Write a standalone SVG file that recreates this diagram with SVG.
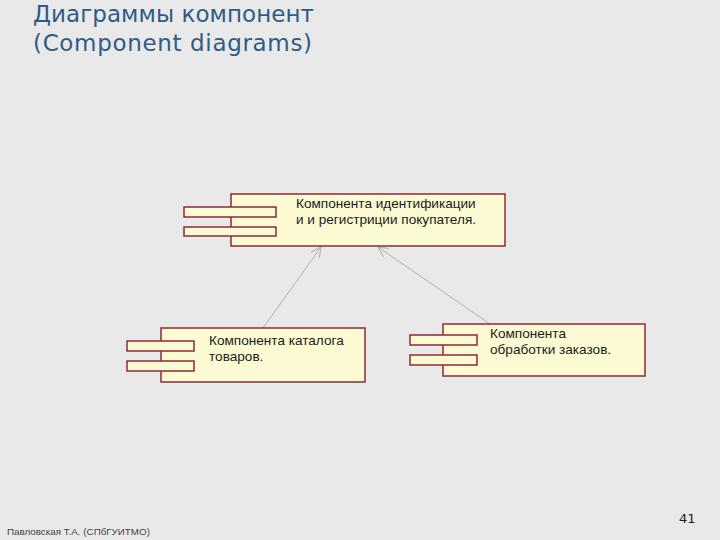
<svg xmlns="http://www.w3.org/2000/svg" width="720" height="540" viewBox="0 0 720 540">
<defs>
<style>
.body{fill:#fcfad3;stroke:#8e2a3a;stroke-width:1.5}
.port{fill:#fcfad3;stroke:#8e2a3a;stroke-width:1.5}
.lbl{font-family:"Liberation Sans",Arial,sans-serif;font-size:13.6px;fill:#1a1a1a}
.title{font-family:"DejaVu Sans",Verdana,sans-serif;font-size:23px;fill:#2f5b86}
.dep{stroke:#b0b0b0;stroke-width:1;fill:none;marker-end:url(#open)}
</style>
<marker id="open" viewBox="0 0 12 12" refX="11" refY="6" markerWidth="12" markerHeight="12" markerUnits="userSpaceOnUse" orient="auto">
<path d="M1,1 L11,6 L1,11" fill="none" stroke="#b0b0b0" stroke-width="1"/>
</marker>
</defs>
<rect width="720" height="540" fill="#e9e9e9"/>
<text class="title" x="33" y="22" textLength="281">Диаграммы компонент</text>
<text class="title" x="33" y="51" textLength="279">(Component diagrams)</text>
<g id="connectors">
<line class="dep" x1="263" y1="328" x2="321" y2="247"/>
<line class="dep" x1="490" y1="324" x2="378" y2="247"/>
</g>
<g id="comp1">
<rect class="body" x="231" y="194" width="274" height="52"/>
<rect class="port" x="184" y="207" width="92" height="10"/>
<rect class="port" x="184" y="227" width="92" height="9"/>
<text class="lbl" x="296" y="208">Компонента идентификации</text>
<text class="lbl" x="296" y="224">и и регистриции покупателя.</text>
</g>
<g id="comp2">
<rect class="body" x="161" y="328" width="204" height="54"/>
<rect class="port" x="127" y="341" width="67" height="10"/>
<rect class="port" x="127" y="361" width="67" height="10"/>
<text class="lbl" x="209" y="345">Компонента каталога</text>
<text class="lbl" x="209" y="361">товаров.</text>
</g>
<g id="comp3">
<rect class="body" x="443" y="324" width="202" height="52"/>
<rect class="port" x="410" y="335" width="67" height="10"/>
<rect class="port" x="410" y="355" width="67" height="10"/>
<text class="lbl" x="490" y="338">Компонента</text>
<text class="lbl" x="490" y="354">обработки заказов.</text>
</g>
<text x="7" y="535" font-family="'Liberation Sans',Arial,sans-serif" font-size="9.8" fill="#444">Павловская Т.А.  (СПбГУИТМО)</text>
<text x="679" y="523" font-family="'DejaVu Sans',Verdana,sans-serif" font-size="13" fill="#222">41</text>
</svg>
